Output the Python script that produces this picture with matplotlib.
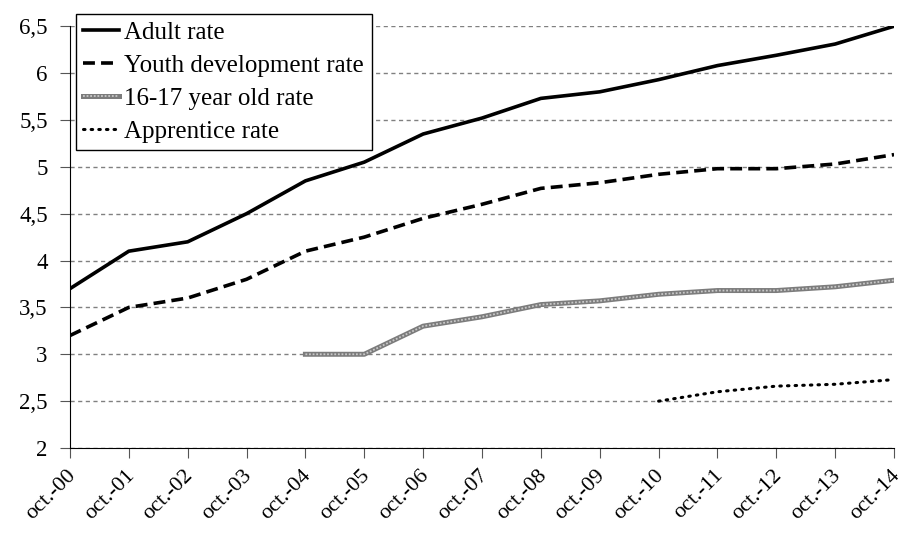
import matplotlib
matplotlib.use('Agg')
import matplotlib.pyplot as plt
import matplotlib.transforms as mtransforms
import numpy as np

years = ['oct.-00', 'oct.-01', 'oct.-02', 'oct.-03', 'oct.-04', 'oct.-05', 'oct.-06', 'oct.-07',
         'oct.-08', 'oct.-09', 'oct.-10', 'oct.-11', 'oct.-12', 'oct.-13', 'oct.-14']
adult = [3.7, 4.1, 4.2, 4.5, 4.85, 5.05, 5.35, 5.52, 5.73, 5.8, 5.93, 6.08, 6.19, 6.31, 6.5]
youth = [3.2, 3.5, 3.6, 3.8, 4.1, 4.25, 4.45, 4.6, 4.77, 4.83, 4.92, 4.98, 4.98, 5.03, 5.13]
teen = [np.nan] * 4 + [3.0, 3.0, 3.3, 3.4, 3.53, 3.57, 3.64, 3.68, 3.68, 3.72, 3.79]
appr = [np.nan] * 10 + [2.5, 2.6, 2.66, 2.68, 2.73]
yticks = [2, 2.5, 3, 3.5, 4, 4.5, 5, 5.5, 6, 6.5]

plt.rcParams['font.family'] = ['Liberation Serif', 'DejaVu Serif']

fig = plt.figure(figsize=(9.04, 5.35), dpi=100)
ax = fig.add_axes([0.0774, 0.1626, 0.9116, 0.7884])
x = np.arange(len(years))

l1, = ax.plot(x, adult, color='black', lw=2.6)
l2, = ax.plot(x, youth, color='black', lw=2.6, ls=(0, (3.3, 1.7)))
# gray band with a lighter dotted core, like the hatched line in the source
l3a, = ax.plot(x, teen, color='#7c7c7c', lw=3.6)
l3b, = ax.plot(x, teen, color='#c8c8c8', lw=1.3, ls=(0, (1, 1)))
l4, = ax.plot(x, appr, color='black', lw=2.2, ls=(0, (0.5, 2.0)), dash_capstyle='round')

ax.set_xlim(0, len(years) - 1)
ax.set_ylim(2, 6.5)
ax.set_yticks(yticks)
ax.set_yticklabels([f'{v:g}'.replace('.', ',') for v in yticks], fontsize=16.5)
ax.set_xticks(x)
ax.set_xticklabels(years, rotation=45, ha='right', rotation_mode='anchor', fontsize=16)
ax.tick_params(axis='both', direction='out', length=7, color='#555555')
ax.tick_params(axis='y', pad=9)
ax.tick_params(axis='x', pad=6)
shift = mtransforms.ScaledTranslation(-4 / 100, 0, fig.dpi_scale_trans)
for lab in ax.get_xticklabels():
    lab.set_transform(lab.get_transform() + shift)
ax.yaxis.grid(True, color='#808080', ls=(0, (3, 2.5)), lw=1)
ax.set_axisbelow(True)
for s in ['top', 'right']:
    ax.spines[s].set_visible(False)

leg = ax.legend([l1, l2, (l3a, l3b), l4],
                ['Adult rate', 'Youth development rate', '16-17 year old rate', 'Apprentice rate'],
                loc='upper left', bbox_to_anchor=(0.007, 1.03), fontsize=18, frameon=True,
                fancybox=False, edgecolor='black', framealpha=1, handlelength=1.45,
                handletextpad=0.2, borderpad=0.3, labelspacing=0.42, borderaxespad=0)
leg.get_frame().set_linewidth(1)

fig.savefig('out.png', dpi=100)
